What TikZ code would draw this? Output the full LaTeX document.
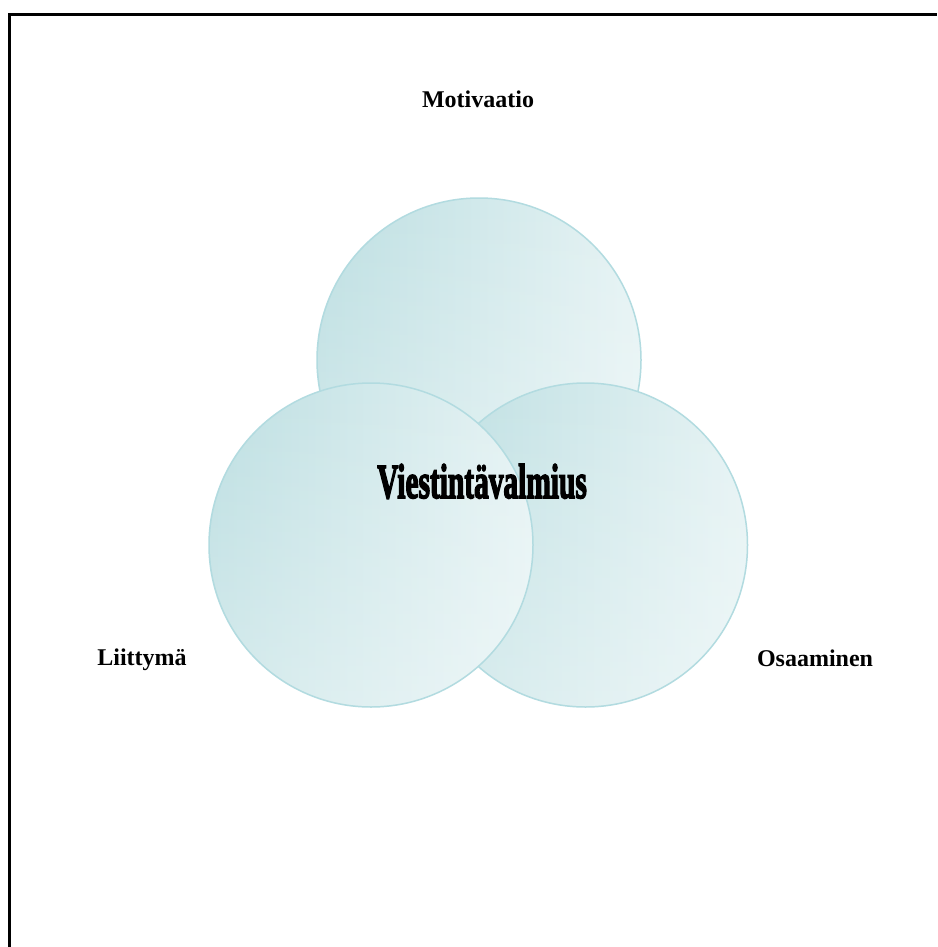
\documentclass[tikz,border=0pt]{standalone}
\usepackage{fontspec}
\usepackage{graphicx}
\setmainfont{Liberation Serif}
\newfontfamily\heavyfont[FakeBold=3.5]{Liberation Serif Bold}
\usetikzlibrary{fadings}
\definecolor{cdark}{RGB}{189,223,226}
\definecolor{clight}{RGB}{230,243,244}
\definecolor{cedge}{RGB}{178,219,224}
\tikzset{
  bubble/.style={circle, minimum size=324pt, inner sep=0pt, draw=cedge, line width=1.5pt,
    left color=cdark, right color=clight},
  label/.style={font=\fontsize{24}{28}\selectfont\bfseries, anchor=base, inner sep=0pt}
}
\begin{document}
\begin{tikzpicture}[x=1pt,y=-1pt]
\useasboundingbox (0,0) rectangle (937,947);
\fill[white] (0,0) rectangle (937,947);
\draw[line width=2.6pt] (9.5,947) -- (9.5,14.5) -- (937,14.5);
\node[bubble] (top) at (479,360) {};
\fill[white, opacity=0.35, path fading=north] (479,360) circle (161pt);
\node[bubble] (right) at (585.5,545) {};
\fill[white, opacity=0.35, path fading=north] (585.5,545) circle (161pt);
\node[bubble] (left) at (371,545) {};
\fill[white, opacity=0.35, path fading=north] (371,545) circle (161pt);
\node[anchor=base, inner sep=0pt] (center) at (482,498) {\scalebox{0.6}[1]{\heavyfont\fontsize{49}{52}\selectfont Viestintävalmius}};
\node[label] (mot) at (478,108) {Motivaatio};
\node[label] (lii) at (142,665) {Liittymä};
\node[label] (osa) at (815,666) {Osaaminen};
\end{tikzpicture}
\end{document}
